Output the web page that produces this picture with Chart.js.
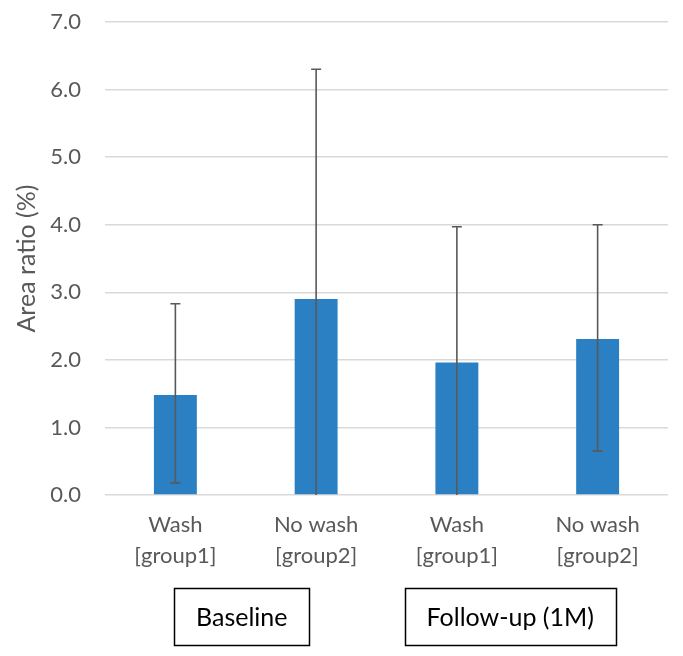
<!DOCTYPE html>
<html>
<head>
<meta charset="utf-8">
<script src="https://cdn.jsdelivr.net/npm/chart.js@4/dist/chart.umd.min.js"></script>
<style>
  html, body { margin: 0; padding: 0; background: #fff; }
  #wrap { width: 683px; height: 656px; position: relative; }
</style>
</head>
<body>
<div id="wrap"><canvas id="c" width="683" height="656"></canvas></div>
<script>
// ---- Data ----
const categories = [["Wash", "[group1]"], ["No wash", "[group2]"], ["Wash", "[group1]"], ["No wash", "[group2]"]];
const meanValues = [1.48, 2.90, 1.96, 2.31];
const errorUpper = [2.83, 6.30, 3.97, 4.00];
const errorLower = [0.18, 0.00, 0.00, 0.65];
const groupLabels = ["Baseline", "Follow-up (1M)"];
const groupSpans = [[0, 1], [2, 3]];
const yTicks = [0, 1, 2, 3, 4, 5, 6, 7];

const FONT = "Lato, 'Open Sans', sans-serif";
const GRAY = "#595959";

const errorBarPlugin = {
  id: 'errorBars',
  afterDatasetsDraw(chart) {
    const ctx = chart.ctx;
    const meta = chart.getDatasetMeta(0);
    const y = chart.scales.y;
    ctx.save();
    ctx.strokeStyle = GRAY;
    ctx.lineWidth = 1.6;
    meta.data.forEach((bar, i) => {
      const hi = errorUpper[i];
      const lo = errorLower[i];
      const yHi = y.getPixelForValue(hi);
      const yLo = y.getPixelForValue(lo);
      const x = bar.x;
      ctx.beginPath();
      ctx.moveTo(x, yHi); ctx.lineTo(x, yLo);
      ctx.moveTo(x - 5, yHi); ctx.lineTo(x + 5, yHi);
      if (lo > 0) { ctx.moveTo(x - 5, yLo); ctx.lineTo(x + 5, yLo); }
      ctx.stroke();
    });
    ctx.restore();
  }
};

const groupBoxPlugin = {
  id: 'groupBoxes',
  afterDraw(chart) {
    const ctx = chart.ctx;
    const xs = chart.scales.x;
    const top = chart.chartArea.bottom + 93;
    const h = 57;
    ctx.save();
    ctx.font = "25px " + FONT;
    ctx.textAlign = 'center';
    ctx.textBaseline = 'middle';
    groupLabels.forEach((lab, g) => {
      const [a, b] = groupSpans[g];
      const cx = (xs.getPixelForValue(a) + xs.getPixelForValue(b)) / 2 - (g === 0 ? 4 : 17);
      const tw = ctx.measureText(lab).width;
      const w = tw + 44;
      ctx.strokeStyle = '#000';
      ctx.lineWidth = 1.5;
      ctx.strokeRect(Math.round(cx - w / 2) + 0.5, Math.round(top) + 0.5, Math.round(w), h);
      ctx.fillStyle = '#000';
      ctx.fillText(lab, cx, top + h / 2 + 1);
    });
    ctx.restore();
  }
};

new Chart(document.getElementById('c'), {
  type: 'bar',
  data: {
    labels: categories,
    datasets: [{
      data: meanValues,
      backgroundColor: '#2a80c3',
      borderWidth: 0,
      barPercentage: 1,
      categoryPercentage: 0.305
    }]
  },
  options: {
    responsive: false,
    animation: false,
    layout: { padding: { top: 22, right: 15, bottom: 81, left: 10 } },
    plugins: { legend: { display: false }, tooltip: { enabled: false } },
    scales: {
      x: {
        grid: { display: false, drawTicks: false },
        border: { display: false },
        ticks: { color: GRAY, font: { family: FONT, size: 22, lineHeight: 1.4 }, padding: 15, maxRotation: 0, autoSkip: false },
        afterFit(s) { s.height = 80; s.paddingLeft = 0; s.paddingRight = 0; }
      },
      y: {
        min: 0, max: 7,
        afterBuildTicks(s) { s.ticks = yTicks.map(v => ({ value: v })); },
        grid: { color: '#d9d9d9', lineWidth: 1.5, drawTicks: false },
        border: { display: false },
        ticks: { color: GRAY, font: { family: FONT, size: 22 }, padding: 24, callback: v => Number(v).toFixed(1) },
        title: { display: true, text: 'Area ratio (%)', color: GRAY, font: { family: FONT, size: 25 }, padding: 2 },
        afterFit(s) { s.width = 95; s.paddingTop = 0; s.paddingBottom = 0; }
      }
    }
  },
  plugins: [errorBarPlugin, groupBoxPlugin]
});
</script>
</body>
</html>
